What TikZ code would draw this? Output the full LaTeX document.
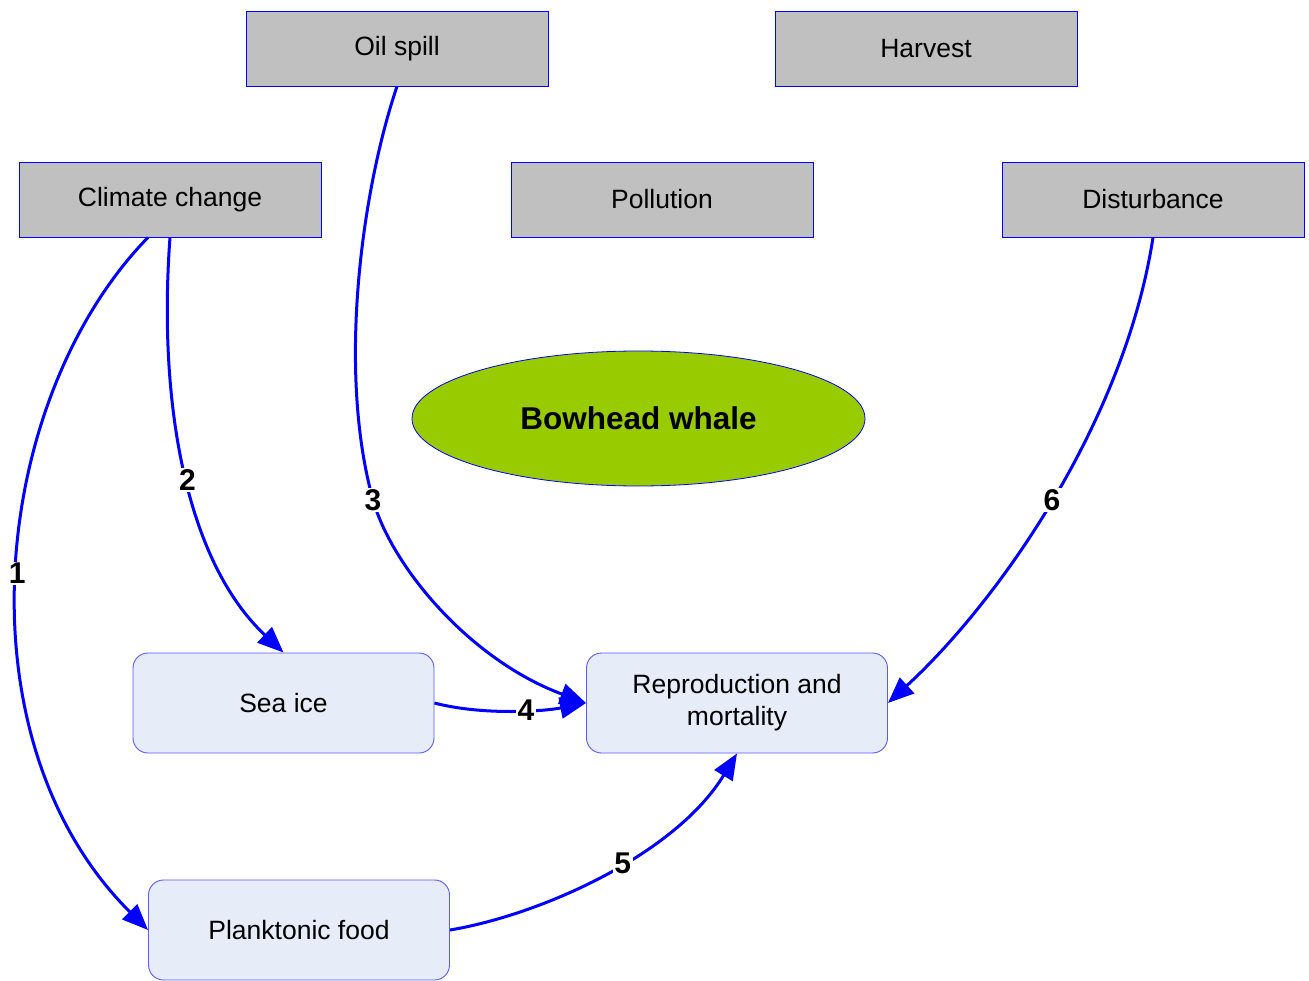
\documentclass[tikz,border=0pt]{standalone}
\usepackage{fontspec}
\setmainfont{Liberation Sans}
\usetikzlibrary{arrows.meta,shapes.geometric}
\definecolor{boxgray}{HTML}{C0C0C0}
\definecolor{paleblue}{HTML}{E6ECF8}
\definecolor{edgeblue}{HTML}{5A5AFF}
\definecolor{whalegreen}{HTML}{99CC00}
\begin{document}
\begin{tikzpicture}[x=1pt,y=-1pt,
  threat/.style={draw=blue, fill=boxgray, line width=0.8pt,
    minimum width=302pt, minimum height=75pt, inner sep=0pt,
    font=\fontsize{26.5}{32}\selectfont},
  effect/.style={draw=edgeblue, fill=paleblue, line width=0.9pt,
    rounded corners=15pt, minimum width=301pt, minimum height=100pt,
    inner sep=0pt, align=center, font=\fontsize{26.5}{32}\selectfont},
  link/.style={draw=blue, line width=3pt,
    -{Triangle[length=26pt,width=21pt]}},
  num/.style={fill=white, inner sep=1.5pt,
    font=\fontsize{30}{31}\selectfont\bfseries}
]
\useasboundingbox[fill=white] (0,0) rectangle (1309,981);

% stressors
\node[threat] (oil)  at (397,48.5)   {Oil spill};
\node[threat] (harv) at (926,48.5)   {Harvest};
\node[threat] (cc)   at (170,199.5)  {Climate change};
\node[threat] (poll) at (662,199.5)  {Pollution};
\node[threat] (dist) at (1153,199.5) {Disturbance};

% species
\node[ellipse, draw=blue, fill=whalegreen, line width=0.8pt,
      minimum width=453pt, minimum height=135pt, inner sep=0pt,
      font=\fontsize{31.5}{36}\selectfont\bfseries]
      (whale) at (638.5,418.5) {Bowhead whale};

% affected components
\node[effect] (sea)   at (283.5,703) {Sea ice};
\node[effect] (repro) at (737,703)   {Reproduction and\\mortality};
\node[effect] (pf)    at (299,930)   {Planktonic food};

% pathways
\draw[link] ([xshift=-22pt]cc.south) .. controls (-10,400) and (-43,740) ..
  node[num,pos=0.5]{1} (pf.west);
\draw[link] (cc.south) .. controls (158,400) and (185,560) ..
  node[num,pos=0.52]{2} (sea.north);
\draw[link] (oil.south) .. controls (362,190) and (337,370) .. (373,500)
  node[num]{3} .. controls (392,567) and (470,660) .. (repro.west);
\draw[link] (sea.east) .. controls (480,715) and (540,712) ..
  node[num,pos=0.6]{4} (repro.west);
\draw[link] (pf.east) .. controls (540,915) and (675,855) ..
  node[num,pos=0.56]{5} (repro.south);
\draw[link] (dist.south) .. controls (1125,420) and (1000,600) ..
  node[num,pos=0.5]{6} (repro.east);
\end{tikzpicture}
\end{document}
